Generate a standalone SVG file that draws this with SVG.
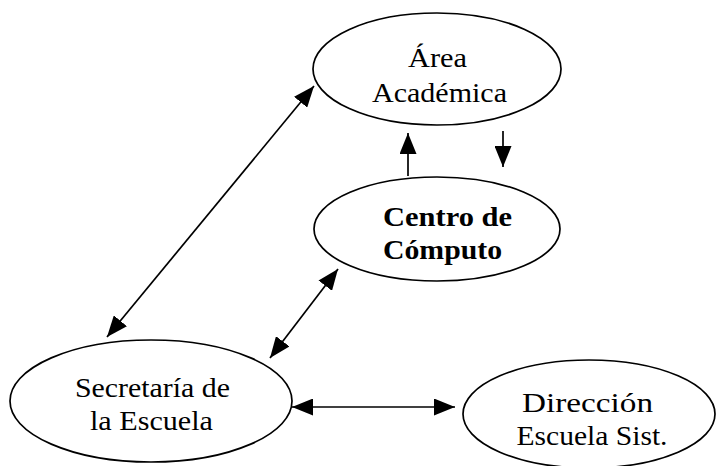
<svg xmlns="http://www.w3.org/2000/svg" width="716" height="466" viewBox="0 0 716 466">
<style>
.node{fill:#fff;stroke:#000;stroke-width:1.7}
.t{font-family:"Liberation Serif","Times New Roman",serif;font-size:28px;fill:#000;text-anchor:middle}
.b{font-weight:bold}
.c{stroke:#000;stroke-width:1.7;fill:none}
</style>
<defs>
<marker id="ah" markerUnits="userSpaceOnUse" markerWidth="21" markerHeight="17" refX="21" refY="8.5" orient="auto-start-reverse">
<path d="M0,0 L21,8.5 L0,17 z" fill="#000"/>
</marker>
</defs>
<rect width="716" height="466" fill="#fff"/>
<g id="connectors">
<line class="c" x1="107" y1="337" x2="314" y2="86" marker-start="url(#ah)" marker-end="url(#ah)"/>
<line class="c" x1="270" y1="358" x2="338" y2="269" marker-start="url(#ah)" marker-end="url(#ah)"/>
<line class="c" x1="292" y1="407" x2="455" y2="407" marker-start="url(#ah)" marker-end="url(#ah)"/>
<line class="c" x1="408" y1="176" x2="408" y2="133" marker-end="url(#ah)"/>
<line class="c" x1="503" y1="131" x2="503" y2="167" marker-end="url(#ah)"/>
</g>
<g id="area">
<ellipse class="node" cx="437" cy="69" rx="124" ry="56"/>
<text class="t" x="437.5" y="67" textLength="59" lengthAdjust="spacingAndGlyphs">Área</text>
<text class="t" x="439.5" y="102" textLength="135" lengthAdjust="spacingAndGlyphs">Académica</text>
</g>
<g id="centro">
<ellipse class="node" cx="437" cy="229" rx="123" ry="52"/>
<text class="t b" x="447.5" y="226" textLength="129" lengthAdjust="spacingAndGlyphs">Centro de</text>
<text class="t b" x="442.5" y="259" textLength="119" lengthAdjust="spacingAndGlyphs">Cómputo</text>
</g>
<g id="secretaria">
<ellipse class="node" cx="151" cy="401" rx="141" ry="61"/>
<text class="t" x="152.5" y="397" textLength="155" lengthAdjust="spacingAndGlyphs">Secretaría de</text>
<text class="t" x="151.5" y="430" textLength="123" lengthAdjust="spacingAndGlyphs">la Escuela</text>
</g>
<g id="direccion">
<ellipse class="node" cx="589" cy="414" rx="126" ry="54"/>
<text class="t" x="587.5" y="412" textLength="131" lengthAdjust="spacingAndGlyphs">Dirección</text>
<text class="t" x="592" y="445" textLength="151" lengthAdjust="spacingAndGlyphs">Escuela Sist.</text>
</g>
</svg>
